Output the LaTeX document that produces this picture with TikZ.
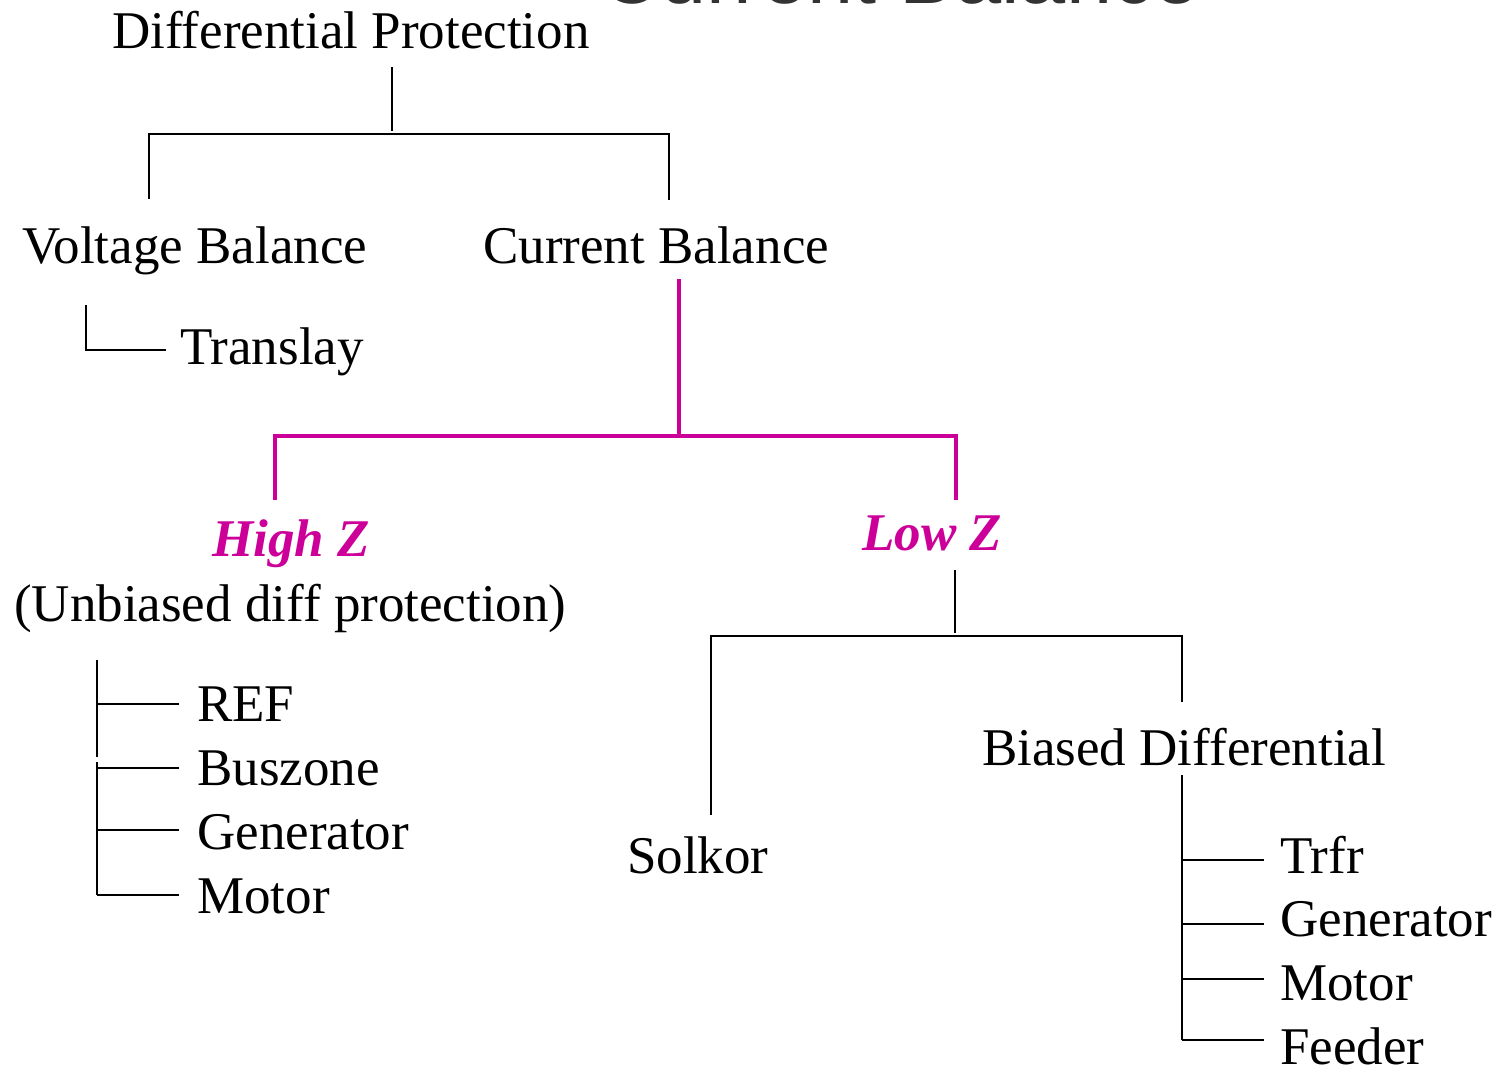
\documentclass[tikz,border=0pt]{standalone}
\usepackage{fontspec}
\setmainfont{Liberation Serif}
\newfontfamily\headfont{Liberation Sans}
\definecolor{zmag}{RGB}{204,0,153}
\begin{document}
\begin{tikzpicture}[x=1pt,y=-1pt,
  lbl/.style={anchor=base west,inner sep=0pt,font=\fontsize{53}{60}\selectfont},
  hz/.style={lbl,font=\fontsize{53}{60}\selectfont\bfseries\itshape,text=zmag},
  wire/.style={draw=black,line width=2pt},
  mwire/.style={draw=zmag,line width=3.2pt}]
\useasboundingbox (0,0) rectangle (1500,1072);
\fill[white] (0,0) rectangle (1500,1072);
\begin{scope}
\clip (0,0) rectangle (1500,1072);
\node[anchor=base west,inner sep=0pt,text=black!80,font=\fontsize{83}{90}\selectfont\headfont] (head) at (600,3) {Current Balance};

% tree labels
\node[lbl] (dp)   at (112,48)  {Differential Protection};
\node[lbl] (vb)   at (22,263)  {Voltage Balance};
\node[lbl] (cb)   at (483,263) {Current Balance};
\node[lbl] (tr)   at (180,364) {Translay};
\node[hz]  (hi)   at (212,556) {High Z};
\node[lbl] (unb)  at (14,621)  {(Unbiased diff protection)};
\node[hz]  (lo)   at (862,550) {Low Z};
\node[lbl] (ref)  at (197,721) {REF};
\node[lbl] (bus)  at (197,785) {Buszone};
\node[lbl] (genA) at (197,849) {Generator};
\node[lbl] (motA) at (197,913) {Motor};
\node[lbl] (sol)  at (627,873) {Solkor};
\node[lbl] (bd)   at (982,765) {Biased Differential};
\node[lbl] (trf)  at (1280,873)  {Trfr};
\node[lbl] (genB) at (1280,936)  {Generator};
\node[lbl] (motB) at (1280,1000) {Motor};
\node[lbl] (fed)  at (1280,1064) {Feeder};

% junction points
\coordinate (dpS) at (392,67);
\coordinate (dpJ) at (392,131);
\coordinate (dpL) at (149,134);
\coordinate (dpR) at (669,134);
\coordinate (vbN) at (149,199);
\coordinate (cbN) at (669,200);
\coordinate (vbS) at (86,305);
\coordinate (trW) at (166,350);
\coordinate (cbS) at (679,279);
\coordinate (cbJ) at (679,434);
\coordinate (hzL) at (275,436);
\coordinate (hzR) at (956,436);
\coordinate (hiN) at (275,500);
\coordinate (loN) at (956,500);
\coordinate (loS) at (955,570);
\coordinate (loJ) at (955,633);
\coordinate (lzL) at (711,636);
\coordinate (lzR) at (1182,636);
\coordinate (solN) at (711,815);
\coordinate (bdN) at (1182,702);
\coordinate (bdS) at (1182,775);
\coordinate (bdE) at (1182,1040);
\coordinate (unbS) at (97,660);
\coordinate (unbM) at (97,757);
\coordinate (unbM2) at (97,762);
\coordinate (unbE) at (97,895);

% top level
\draw[wire] (dpS) -- (dpJ);
\draw[wire] (vbN) -- (dpL) -- (dpR) -- (cbN);
\draw[wire] (vbS) |- (trW);

% current balance split
\draw[mwire] (cbS) -- (cbJ);
\draw[mwire] (hiN) -- (hzL) -- (hzR) -- (loN);

% high impedance applications
\draw[wire] (unbS) -- (unbM);
\draw[wire] (unbM2) -- (unbE);
\foreach \n/\y in {ref/704,bus/768,genA/830,motA/895}
  \draw[wire] (97,\y) -- (179,\y);

% low impedance split
\draw[wire] (loS) -- (loJ);
\draw[wire] (solN) -- (lzL) -- (lzR) -- (bdN);

% biased differential applications
\draw[wire] (bdS) -- (bdE);
\foreach \n/\y in {trf/860,genB/924,motB/979,fed/1040}
  \draw[wire] (1182,\y) -- (1264,\y);
\end{scope}
\end{tikzpicture}
\end{document}
